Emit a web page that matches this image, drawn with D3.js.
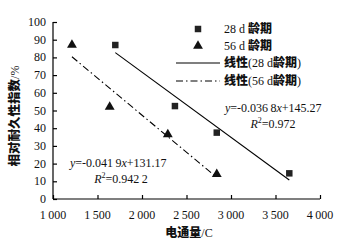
<!DOCTYPE html>
<html lang="zh">
<head>
<meta charset="UTF-8">
<title>电通量与相对耐久性指数</title>
<script src="https://cdn.jsdelivr.net/npm/d3@7/dist/d3.min.js"></script>
<style>
  body { margin: 0; background: #fff; }
  .num { font-family: "Liberation Serif", "DejaVu Serif", serif; font-size: 12px; fill: #111; }
  .cjk { font-family: "Noto Sans CJK SC", sans-serif; font-weight: 900; font-size: 12px; fill: #111; }
</style>
</head>
<body>
<script>
// data
var x28 = [1700, 2370, 2840, 3655];
var y28 = [87, 52.5, 37.5, 14.5];
var x56 = [1213, 1637, 2290, 2840];
var y56 = [87, 52, 36.5, 14];
// fitted lines as printed on the chart
var fit28 = { k: -0.0368, b: 145.27 };
var fit56 = { k: -0.0419, b: 131.17 };
var xTicks = [1000, 1500, 2000, 2500, 3000, 3500, 4000];
var yTicks = [0, 10, 20, 30, 40, 50, 60, 70, 80, 90, 100];

var W = 351, H = 245;
var x = d3.scaleLinear().domain([1000, 4000]).range([53, 320]);
var y = d3.scaleLinear().domain([0, 100]).range([199, 22]);

var svg = d3.select("body").append("svg")
    .attr("width", W)
    .attr("height", H);

// axes, ticks pointing inward
var gx = svg.append("g")
    .attr("transform", "translate(0," + y(0) + ")")
    .call(d3.axisTop(x).tickValues(xTicks).tickSize(4).tickFormat(""));
gx.selectAll("line, path").attr("stroke", "#000").attr("stroke-width", 1.2);
gx.select(".domain").attr("d", "M" + x(1000) + ",0H" + x(4000));

var gy = svg.append("g")
    .attr("transform", "translate(" + x(1000) + ",0)")
    .call(d3.axisRight(y).tickValues(yTicks).tickSize(4).tickFormat(""));
gy.selectAll("line, path").attr("stroke", "#000").attr("stroke-width", 1.2);
gy.select(".domain").attr("d", "M0," + y(0) + "V" + y(100));

// tick labels (thin space as thousands separator)
var fmt = d => d >= 1000 ? Math.floor(d / 1000) + "\u2009" + d3.format("03d")(d % 1000) : d;
svg.selectAll(".xl").data(xTicks).enter().append("text")
    .attr("class", "num")
    .attr("x", d => x(d))
    .attr("y", 219)
    .attr("text-anchor", "middle")
    .text(fmt);
svg.selectAll(".yl").data(yTicks).enter().append("text")
    .attr("class", "num")
    .attr("x", 46)
    .attr("y", d => y(d) + 4)
    .attr("text-anchor", "end")
    .text(d => d);

// axis titles
var xt = svg.append("text").attr("x", 189).attr("y", 237).attr("text-anchor", "middle");
xt.append("tspan").attr("class", "cjk").text("电通量");
xt.append("tspan").attr("class", "num").text("/C");

var yt = svg.append("text")
    .attr("transform", "translate(19,116) rotate(-90)")
    .attr("text-anchor", "middle");
yt.append("tspan").attr("class", "cjk").style("font-size", "12.5px").text("相对耐久性指数");
yt.append("tspan").attr("class", "num").text("/%");

// fit lines
function fitPts(xs, f) {
    var lo = d3.min(xs), hi = d3.max(xs);
    return [[lo, f.k * lo + f.b], [hi, f.k * hi + f.b]];
}
var line = d3.line().x(d => x(d[0])).y(d => y(d[1]));
svg.append("path").attr("d", line(fitPts(x28, fit28)))
    .attr("stroke", "#000").attr("stroke-width", 1.1).attr("fill", "none");
svg.append("path").attr("d", line(fitPts(x56, fit56)))
    .attr("stroke", "#000").attr("stroke-width", 1.1).attr("fill", "none")
    .attr("stroke-dasharray", "7,3,1.5,3");

// markers
var sq = d3.symbol().type(d3.symbolSquare).size(42);
var tri = d3.symbol().type(d3.symbolTriangle).size(42);
svg.selectAll(".p28").data(x28).enter().append("path")
    .attr("d", sq)
    .attr("transform", (d, i) => "translate(" + x(d) + "," + y(y28[i]) + ")")
    .attr("fill", "#222");
svg.selectAll(".p56").data(x56).enter().append("path")
    .attr("d", tri)
    .attr("transform", (d, i) => "translate(" + x(d) + "," + y(y56[i]) + ")")
    .attr("fill", "#111");

// legend
var lg = svg.append("g");
lg.append("path").attr("d", sq).attr("transform", "translate(198,29)").attr("fill", "#222");
lg.append("path").attr("d", tri).attr("transform", "translate(198,46)").attr("fill", "#111");
lg.append("line").attr("x1", 176).attr("x2", 220).attr("y1", 63).attr("y2", 63)
    .attr("stroke", "#000").attr("stroke-width", 1.1);
lg.append("line").attr("x1", 176).attr("x2", 220).attr("y1", 81).attr("y2", 81)
    .attr("stroke", "#000").attr("stroke-width", 1.1).attr("stroke-dasharray", "7,3,1.5,3");

var legendTxt = [
    { y: 33, parts: [["num", "28 d "], ["cjk", "龄期"]] },
    { y: 50, parts: [["num", "56 d "], ["cjk", "龄期"]] },
    { y: 67, parts: [["cjk", "线性"], ["num", "(28 d"], ["cjk", "龄期"], ["num", ")"]] },
    { y: 85, parts: [["cjk", "线性"], ["num", "(56 d"], ["cjk", "龄期"], ["num", ")"]] }
];
legendTxt.forEach(function (r) {
    var t = lg.append("text").attr("x", 224).attr("y", r.y);
    r.parts.forEach(p => t.append("tspan").attr("class", p[0]).text(p[1]));
});

// equations
function eq(xp, yp, anchor, parts) {
    var t = svg.append("text").attr("class", "num").attr("x", xp).attr("y", yp).attr("text-anchor", anchor);
    parts.forEach(function (p) {
        var s = t.append("tspan").text(p[0]);
        if (p[1] === "i") s.attr("font-style", "italic");
        if (p[1] === "sup") s.attr("font-size", "8px").attr("dy", -5);
        if (p[1] === "down") s.attr("dy", 5);
    });
}
eq(225, 112, "start", [["y", "i"], ["=-0.036\u20098"], ["x", "i"], ["+145.27"]]);
eq(273, 128, "middle", [["R", "i"], ["2", "sup"], ["=0.972", "down"]]);
eq(70, 167, "start", [["y", "i"], ["=-0.041\u20099"], ["x", "i"], ["+131.17"]]);
eq(121, 183, "middle", [["R", "i"], ["2", "sup"], ["=0.942\u20092", "down"]]);
</script>
</body>
</html>
